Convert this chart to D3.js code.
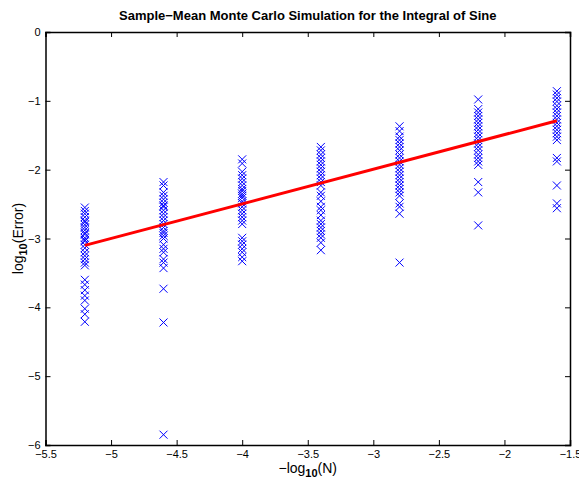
<!DOCTYPE html>
<html>
<head>
<meta charset="utf-8">
<script src="https://cdn.jsdelivr.net/npm/d3@7"></script>
<style>
  body { margin: 0; background: #fff; }
  text { font-family: "Liberation Sans", Arial, sans-serif; }
</style>
</head>
<body>
<div id="chart"></div>
<script>
const width = 579, height = 486;
const margin = {top: 32, right: 9, bottom: 41, left: 45.5};

// -log10(N) for each batch of runs
const xGroups = [-5.2, -4.6, -4.0, -3.4, -2.8, -2.2, -1.6];
// log10(Error) values, one list per batch
const errors = [
  [-2.55, -2.6, -2.64, -2.69, -2.74, -2.76, -2.8, -2.84, -2.88, -2.92, -2.94, -2.99, -3.02, -3.04, -3.09, -3.14, -3.2, -3.25, -3.3, -3.35, -3.39, -3.6, -3.67, -3.75, -3.83, -3.9, -4.02, -4.1, -4.21],
  [-2.18, -2.23, -2.33, -2.38, -2.43, -2.48, -2.52, -2.54, -2.59, -2.64, -2.69, -2.74, -2.79, -2.84, -2.89, -2.92, -2.96, -3.0, -3.09, -3.15, -3.2, -3.3, -3.35, -3.43, -3.73, -4.22, -5.85],
  [-1.85, -1.91, -2.03, -2.08, -2.13, -2.18, -2.23, -2.28, -2.31, -2.35, -2.38, -2.41, -2.46, -2.49, -2.54, -2.59, -2.64, -2.69, -2.74, -2.79, -2.99, -3.04, -3.09, -3.15, -3.2, -3.27, -3.33],
  [-1.67, -1.72, -1.78, -1.83, -1.88, -1.93, -1.98, -2.03, -2.08, -2.13, -2.18, -2.23, -2.33, -2.38, -2.46, -2.54, -2.59, -2.66, -2.74, -2.79, -2.84, -2.89, -2.94, -2.99, -3.06, -3.17],
  [-1.37, -1.44, -1.52, -1.57, -1.62, -1.67, -1.72, -1.78, -1.83, -1.88, -1.93, -1.98, -2.03, -2.08, -2.13, -2.18, -2.23, -2.28, -2.33, -2.38, -2.49, -2.54, -2.64, -3.35],
  [-0.98, -1.12, -1.17, -1.22, -1.27, -1.32, -1.37, -1.42, -1.47, -1.52, -1.57, -1.62, -1.67, -1.72, -1.78, -1.83, -1.88, -1.93, -2.18, -2.33, -2.81],
  [-0.86, -0.91, -0.96, -1.01, -1.07, -1.12, -1.17, -1.22, -1.27, -1.32, -1.37, -1.42, -1.47, -1.52, -1.57, -1.83, -1.88, -2.23, -2.49, -2.56]
];
// fitted line end points
const fitX = [-5.2, -1.6];
const fitY = [-3.1, -1.29];

const xTicks = [-5.5, -5, -4.5, -4, -3.5, -3, -2.5, -2, -1.5];
const yTicks = [-6, -5, -4, -3, -2, -1, 0];

const svg = d3.select("#chart").append("svg")
  .attr("width", width).attr("height", height);

const x = d3.scaleLinear().domain([-5.5, -1.5]).range([margin.left, width - margin.right]);
const y = d3.scaleLinear().domain([-6, 0]).range([height - margin.bottom, margin.top]);

const fmt = d => d3.format("")(d).replace("-", "\u2212");

// axes, ticks pointing inward like matlab
svg.append("g").attr("transform", `translate(0,${y(-6)})`)
  .call(d3.axisBottom(x).tickValues(xTicks).tickSize(-5).tickPadding(5).tickFormat(fmt));
svg.append("g").attr("transform", `translate(0,${y(0)})`)
  .call(d3.axisTop(x).tickValues(xTicks).tickSize(-5).tickFormat(""));
svg.append("g").attr("transform", `translate(${x(-5.5)},0)`)
  .call(d3.axisLeft(y).tickValues(yTicks).tickSize(-5).tickPadding(5).tickFormat(fmt));
svg.append("g").attr("transform", `translate(${x(-1.5)},0)`)
  .call(d3.axisRight(y).tickValues(yTicks).tickSize(-5).tickFormat(""));

svg.selectAll(".domain").attr("stroke", "#000").attr("stroke-width", 1.5);
svg.selectAll(".tick line").attr("stroke", "#000");
svg.selectAll(".tick text").attr("font-size", 11).attr("fill", "#000")
  .style("font-family", "Liberation Sans, Arial, sans-serif");

// scatter of x markers
const pts = [];
xGroups.forEach((g, i) => errors[i].forEach(e => pts.push({x: g, y: e})));
const s = 4;
svg.append("g").selectAll("path")
  .data(pts)
  .join("path")
    .attr("d", d => `M${x(d.x)-s},${y(d.y)-s}L${x(d.x)+s},${y(d.y)+s}M${x(d.x)-s},${y(d.y)+s}L${x(d.x)+s},${y(d.y)-s}`)
    .attr("stroke", "#0000ff")
    .attr("stroke-width", 1)
    .attr("fill", "none");

// fit line
svg.append("path")
  .datum(fitX.map((v, i) => [v, fitY[i]]))
  .attr("d", d3.line().x(d => x(d[0])).y(d => y(d[1])))
  .attr("stroke", "#ff0000")
  .attr("stroke-width", 3)
  .attr("fill", "none");

// title
svg.append("text")
  .attr("x", (x(-5.5) + x(-1.5)) / 2).attr("y", 20)
  .attr("text-anchor", "middle").attr("font-size", 13).attr("font-weight", "bold")
  .text("Sample\u2212Mean Monte Carlo Simulation for the Integral of Sine");

// x label
const xl = svg.append("text")
  .attr("x", (x(-5.5) + x(-1.5)) / 2).attr("y", 473)
  .attr("text-anchor", "middle").attr("font-size", 14);
xl.append("tspan").text("\u2212log");
xl.append("tspan").attr("font-size", 11).attr("font-weight", "bold").attr("dy", 4).text("10");
xl.append("tspan").attr("dy", -4).text("(N)");

// y label
const yl = svg.append("text")
  .attr("transform", `translate(23,${(y(0) + y(-6)) / 2}) rotate(-90)`)
  .attr("text-anchor", "middle").attr("font-size", 14);
yl.append("tspan").text("log");
yl.append("tspan").attr("font-size", 11).attr("font-weight", "bold").attr("dy", 4).text("10");
yl.append("tspan").attr("dy", -4).text("(Error)");
</script>
</body>
</html>
